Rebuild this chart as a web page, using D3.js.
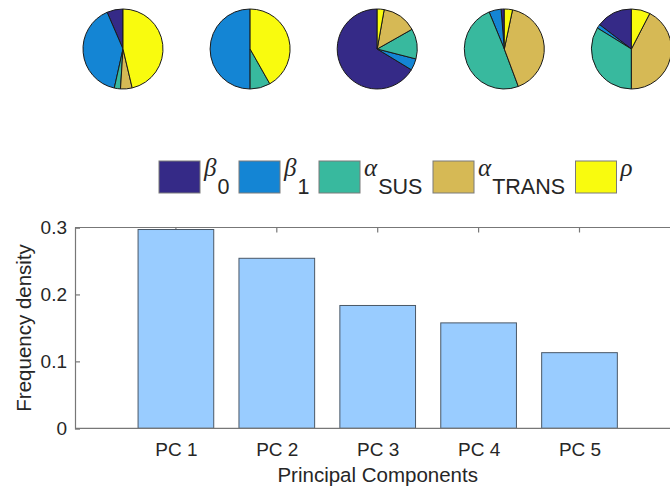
<!DOCTYPE html>
<html>
<head>
<meta charset="utf-8">
<script src="https://cdn.jsdelivr.net/npm/d3@7/dist/d3.min.js"></script>
<style>
  html, body { margin: 0; padding: 0; background: #fff; }
  svg { display: block; }
  text { font-family: "Liberation Sans", Arial, Helvetica, sans-serif; fill: #262626; }
</style>
</head>
<body>
<svg id="chart" width="670" height="488"></svg>
<script>
// Model parameters (legend order) and their colours
const params = [
  { sym: "\u03B2", sub: "0" },
  { sym: "\u03B2", sub: "1" },
  { sym: "\u03B1", sub: "SUS" },
  { sym: "\u03B1", sub: "TRANS" },
  { sym: "\u03C1", sub: "" }
];
const paramColors = ["#352a87", "#1485d4", "#38b99e", "#d6b955", "#f9fb0e"];

// Principal components and their frequency density
const pcLabels = ["PC 1", "PC 2", "PC 3", "PC 4", "PC 5"];
const density = [0.297, 0.254, 0.1835, 0.1575, 0.113];

// Parameter shares (%) of each principal component, in params order
const pc1Shares = [6.5, 40.0, 2.5, 4.7, 46.3];
const pc2Shares = [0.0, 50.0, 8.2, 0.0, 41.8];
const pc3Shares = [66.3, 4.7, 12.2, 14.0, 2.8];
const pc4Shares = [1.3, 4.9, 49.5, 41.0, 3.3];
const pc5Shares = [14.6, 1.6, 33.8, 42.4, 7.6];
const pieShares = [pc1Shares, pc2Shares, pc3Shares, pc4Shares, pc5Shares];

const yTicks = [0, 0.1, 0.2, 0.3];

const svg = d3.select("#chart");

// ---------- pies across the top ----------
const pieR = 40;
const pieX = d3.scaleLinear().domain([0, pieShares.length - 1]).range([123, 631.4]);
const pieY = 49;
// counter-clockwise from 12 o'clock, data order kept
const pie = d3.pie().sort(null).startAngle(0).endAngle(-2 * Math.PI);
const arc = d3.arc().innerRadius(0).outerRadius(pieR);

pieShares.forEach((shares, i) => {
  const g = svg.append("g").attr("transform", `translate(${pieX(i)},${pieY})`);
  g.selectAll("path")
    .data(pie(shares).filter(d => d.value > 0))
    .join("path")
    .attr("d", arc)
    .attr("fill", d => paramColors[d.index])
    .attr("stroke", "#1a1a1a")
    .attr("stroke-width", 1)
    .attr("stroke-linejoin", "round");
});

// ---------- legend ----------
const legendX = [159, 239, 319, 433, 575.5];
const legend = svg.append("g");
params.forEach((p, i) => {
  const g = legend.append("g").attr("transform", `translate(${legendX[i]},161)`);
  g.append("rect")
    .attr("width", 41).attr("height", 32)
    .attr("fill", paramColors[i])
    .attr("stroke", "#7a7a7a").attr("stroke-width", 1);
  const t = g.append("text").attr("x", 45).attr("y", 15);
  t.append("tspan")
    .style("font-family", "'Liberation Serif', 'Times New Roman', serif")
    .style("font-style", "italic")
    .style("font-size", "25px")
    .text(p.sym);
  if (p.sub) {
    t.append("tspan")
      .attr("dx", 1)
      .attr("y", 33)
      .style("font-size", "21.5px")
      .text(p.sub);
  }
});

// ---------- bar chart ----------
const plot = { left: 75, top: 227.5, bottom: 428.3 };
const x = d3.scaleLinear().domain([0, 6]).range([plot.left, plot.left + 6 * 100.9]);
const y = d3.scaleLinear().domain([0, 0.3]).range([plot.bottom, plot.top]);
const barW = 0.75;
const axisColor = "#777";

const frame = svg.append("g");
// top line with inward ticks
frame.append("line")
  .attr("x1", plot.left).attr("x2", 670).attr("y1", y(0.3)).attr("y2", y(0.3))
  .attr("stroke", axisColor).attr("stroke-width", 1.2);
pcLabels.forEach((lab, i) => {
  frame.append("line")
    .attr("x1", x(i + 1)).attr("x2", x(i + 1))
    .attr("y1", y(0.3)).attr("y2", y(0.3) + 5)
    .attr("stroke", axisColor).attr("stroke-width", 1.2);
});

// bars
svg.append("g").selectAll("rect")
  .data(density)
  .join("rect")
  .attr("x", (d, i) => x(i + 1 - barW / 2))
  .attr("width", x(barW) - x(0))
  .attr("y", d => y(d))
  .attr("height", d => y(0) - y(d))
  .attr("fill", "#99ccff")
  .attr("stroke", "#4a5867")
  .attr("stroke-width", 1);

// y axis
const yAxis = svg.append("g").attr("transform", `translate(${plot.left},0)`)
  .call(d3.axisLeft(y).tickValues(yTicks).tickSize(-5).tickPadding(8)
    .tickFormat(d => d === 0 ? "0" : d3.format(".1f")(d)));
yAxis.select(".domain").attr("stroke", axisColor).attr("stroke-width", 1.2);
yAxis.selectAll(".tick line").attr("stroke", axisColor).attr("stroke-width", 1.2);
yAxis.selectAll(".tick text")
  .style("font-size", "19px").attr("fill", "#262626");

// x axis
const xAxis = svg.append("g").attr("transform", `translate(0,${plot.bottom})`)
  .call(d3.axisBottom(x).tickValues(d3.range(1, pcLabels.length + 1)).tickSize(0).tickPadding(14)
    .tickFormat(d => pcLabels[d - 1]));
xAxis.select(".domain").attr("stroke", axisColor).attr("stroke-width", 1.2)
  .attr("d", `M${plot.left},0H670`);
xAxis.selectAll(".tick text")
  .style("font-size", "19px").attr("fill", "#262626");

// axis titles
svg.append("text")
  .attr("x", x(3)).attr("y", 482)
  .attr("text-anchor", "middle")
  .style("font-size", "20.5px")
  .text("Principal Components");

svg.append("text")
  .attr("transform", `translate(31,${(plot.top + plot.bottom) / 2}) rotate(-90)`)
  .attr("text-anchor", "middle")
  .style("font-size", "20.5px")
  .text("Frequency density");
</script>
</body>
</html>
